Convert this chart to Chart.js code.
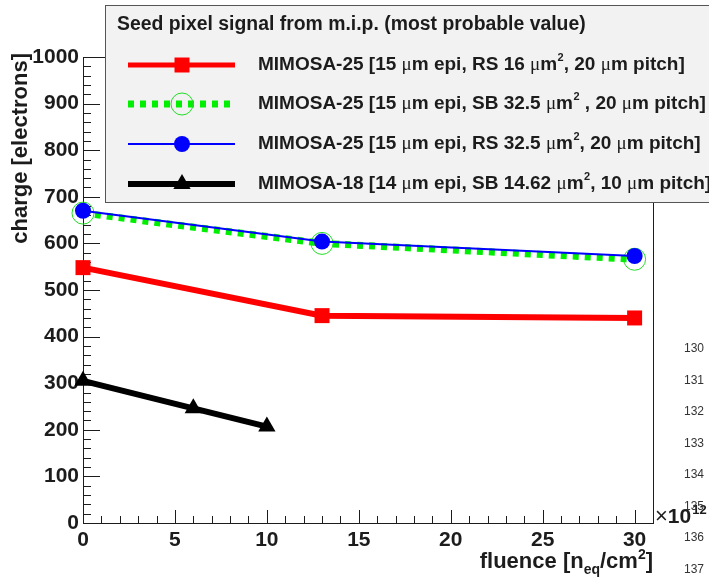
<!DOCTYPE html>
<html>
<head>
<meta charset="utf-8">
<script src="https://cdn.jsdelivr.net/npm/chart.js@4/dist/chart.umd.min.js"></script>
<style>
html,body{margin:0;padding:0;background:#fff;}
#wrap{position:relative;width:709px;height:579px;}
</style>
</head>
<body>
<div id="wrap"><canvas id="c" width="709" height="579"></canvas></div>
<script>
// fluence in units of 1e12 n_eq/cm^2, charge in electrons
const fluenceM25 = [0, 13, 30];
const fluenceM18 = [0, 6, 10];
const rs16 = [548, 445, 440];
const sb325 = [665, 600, 566];
const rs325 = [670, 604, 573];
const m18 = [305, 246, 207];

const legendTitle = 'Seed pixel signal from m.i.p. (most probable value)';
const seriesLabels = [
  'MIMOSA-25 [15 μm epi, RS 16 μm², 20 μm pitch]',
  'MIMOSA-25 [15 μm epi, SB 32.5 μm² , 20 μm pitch]',
  'MIMOSA-25 [15 μm epi, RS 32.5 μm², 20 μm pitch]',
  'MIMOSA-18 [14 μm epi, SB 14.62 μm², 10 μm pitch]'
];
const lineNumbers = ['130','131','132','133','134','135','136','137'];

const SANS = '"Liberation Sans", Arial, Helvetica, sans-serif';
const SERIF = '"Liberation Serif", "Times New Roman", serif';
const INK = '#1c1c1c';

const pts = (xs, ys) => xs.map((x, i) => ({x: x, y: ys[i]}));

// draw text with μ in serif and ² as superscript
function richText(ctx, str, x, y, size){
  let cx = x;
  const parts = str.split(/(μ|²)/).filter(p => p.length);
  parts.forEach(p => {
    if(p === 'μ'){
      ctx.font = size + 'px ' + SERIF;
      ctx.fillText(p, cx, y);
      cx += ctx.measureText(p).width;
    } else if(p === '²'){
      ctx.font = 'bold ' + Math.round(size*0.6) + 'px ' + SANS;
      ctx.fillText('2', cx + 0.5, y - size*0.38);
      cx += ctx.measureText('2').width + 0.5;
    } else {
      ctx.font = 'bold ' + size + 'px ' + SANS;
      ctx.fillText(p, cx, y);
      cx += ctx.measureText(p).width;
    }
  });
  return cx;
}

function marker(ctx, ds, x, y){
  ctx.save();
  ctx.setLineDash([]);
  ctx.fillStyle = ds.pointBackgroundColor;
  ctx.strokeStyle = ds.pointBorderColor;
  ctx.lineWidth = ds.pointBorderWidth;
  const r = ds.pointRadius;
  ctx.beginPath();
  if(ds.pointStyle === 'rect'){
    const s = Math.SQRT1_2 * r;
    ctx.rect(x - s, y - s, 2*s, 2*s);
  } else if(ds.pointStyle === 'triangle'){
    ctx.moveTo(x, y - r);
    ctx.lineTo(x + r*Math.sin(2*Math.PI/3), y - r*Math.cos(2*Math.PI/3));
    ctx.lineTo(x + r*Math.sin(4*Math.PI/3), y - r*Math.cos(4*Math.PI/3));
    ctx.closePath();
  } else {
    ctx.arc(x, y, r, 0, 2*Math.PI);
  }
  ctx.fill();
  if(ds.pointBorderWidth > 0) ctx.stroke();
  ctx.restore();
}

const rootStyle = {
  id: 'rootStyle',
  beforeDatasetsDraw(chart){
    const ctx = chart.ctx, a = chart.chartArea;
    const xs = chart.scales.x, ys = chart.scales.y;
    ctx.save();
    ctx.strokeStyle = INK;
    ctx.lineWidth = 1;
    ctx.strokeRect(a.left + 0.5, a.top + 0.5, a.right - a.left, a.bottom - a.top);
    // y ticks, pointing inward
    for(let v = ys.min; v <= ys.max + 1e-6; v += 20){
      const py = Math.round(ys.getPixelForValue(v)) + 0.5;
      const len = (v % 100 === 0) ? 17 : 8;
      ctx.beginPath(); ctx.moveTo(a.left, py); ctx.lineTo(a.left + len, py); ctx.stroke();
    }
    // x ticks
    for(let v = xs.min; v <= xs.max + 1e-6; v += 1){
      const px = Math.round(xs.getPixelForValue(v)) + 0.5;
      const len = (v % 5 === 0) ? 13 : 7;
      ctx.beginPath(); ctx.moveTo(px, a.bottom); ctx.lineTo(px, a.bottom - len); ctx.stroke();
    }
    ctx.restore();
  },
  afterDraw(chart){
    const ctx = chart.ctx, a = chart.chartArea;
    ctx.save();
    ctx.fillStyle = INK;
    ctx.textBaseline = 'alphabetic';

    // y axis title
    ctx.save();
    ctx.translate(27, 53);
    ctx.rotate(-Math.PI/2);
    ctx.textAlign = 'right';
    ctx.font = 'bold 22px ' + SANS;
    ctx.fillText('charge [electrons]', 0, 0);
    ctx.restore();

    // x axis title: fluence [n_eq/cm^2]
    const big = 'bold 22px ' + SANS, small = 'bold 14px ' + SANS;
    const runs = [['fluence [n', big, 0], ['eq', small, 6], ['/cm', big, 0], ['2', small, -9], [']', big, 0]];
    let w = 0;
    runs.forEach(r => { ctx.font = r[1]; w += ctx.measureText(r[0]).width; });
    let cx = a.right - w, base = 568;
    ctx.textAlign = 'left';
    runs.forEach(r => { ctx.font = r[1]; ctx.fillText(r[0], cx, base + r[2]); cx += ctx.measureText(r[0]).width; });

    // exponent label
    ctx.font = '22px ' + SANS;
    ctx.fillText('×', a.right + 2, 523);
    let ex = a.right + 2 + ctx.measureText('×').width;
    ctx.font = 'bold 21px ' + SANS;
    ctx.fillText('10', ex, 523);
    ex += ctx.measureText('10').width;
    ctx.font = 'bold 13px ' + SANS;
    ctx.fillText('12', ex + 1, 514);

    // stray line numbers on the right margin
    ctx.fillStyle = '#333';
    ctx.font = '12px ' + SANS;
    ctx.textAlign = 'center';
    ctx.textBaseline = 'middle';
    lineNumbers.forEach((t, i) => ctx.fillText(t, 694, 349 + i * 31.5));

    // legend box
    ctx.fillStyle = '#f2f2f2';
    ctx.fillRect(105, 5, 620, 198);
    ctx.strokeStyle = '#555';
    ctx.lineWidth = 1;
    ctx.strokeRect(105.5, 5.5, 620, 197);
    ctx.fillStyle = INK;
    ctx.textAlign = 'left';
    ctx.textBaseline = 'middle';
    ctx.font = 'bold 19.4px ' + SANS;
    ctx.fillText(legendTitle, 117, 25);
    const rows = [65, 104, 144, 184];
    chart.data.datasets.forEach((ds, i) => {
      const y = rows[i];
      ctx.save();
      ctx.strokeStyle = ds.borderColor;
      ctx.lineWidth = ds.legendLineWidth;
      ctx.setLineDash(ds.borderDash || []);
      ctx.beginPath(); ctx.moveTo(128, y); ctx.lineTo(235, y); ctx.stroke();
      ctx.restore();
      marker(ctx, ds, 182, y);
      ctx.fillStyle = INK;
      richText(ctx, ds.label, 258, y, 19);
    });
    ctx.restore();
  }
};

new Chart(document.getElementById('c'), {
  type: 'scatter',
  data: {
    datasets: [
      {label: seriesLabels[0], data: pts(fluenceM25, rs16), showLine: true, order: 3,
       borderColor: '#ff0000', borderWidth: 6, legendLineWidth: 5,
       pointStyle: 'rect', pointRadius: 10.6, pointBackgroundColor: '#ff0000', pointBorderColor: '#ff0000', pointBorderWidth: 0},
      {label: seriesLabels[1], data: pts(fluenceM25, sb325), showLine: true, order: 2,
       borderColor: '#00ee00', borderWidth: 7, borderDash: [6, 6], legendLineWidth: 7,
       pointStyle: 'circle', pointRadius: 11, pointBackgroundColor: 'rgba(0,0,0,0)', pointBorderColor: '#22dd22', pointBorderWidth: 1},
      {label: seriesLabels[2], data: pts(fluenceM25, rs325), showLine: true, order: 1,
       borderColor: '#0000ff', borderWidth: 2, legendLineWidth: 2,
       pointStyle: 'circle', pointRadius: 8, pointBackgroundColor: '#0000ff', pointBorderColor: '#0000ff', pointBorderWidth: 0},
      {label: seriesLabels[3], data: pts(fluenceM18, m18), showLine: true, order: 3,
       borderColor: '#000000', borderWidth: 6, legendLineWidth: 6,
       pointStyle: 'triangle', pointRadius: 10, pointBackgroundColor: '#000000', pointBorderColor: '#000000', pointBorderWidth: 0}
    ].map(d => Object.assign(d, {clip: false, tension: 0, pointHoverRadius: d.pointRadius}))
  },
  options: {
    responsive: false,
    animation: false,
    events: [],
    layout: {padding: {top: 57, right: 56, left: 0, bottom: 0}},
    plugins: {legend: {display: false}, tooltip: {enabled: false}},
    scales: {
      x: {
        type: 'linear', min: 0, max: 31,
        grid: {display: false, drawTicks: false},
        border: {display: false},
        ticks: {stepSize: 5, includeBounds: false, autoSkip: false, maxRotation: 0, padding: 5,
                color: INK, font: {family: SANS, size: 21, weight: 'bold'}, callback: v => String(v)},
        afterFit: s => { s.height = 56; }
      },
      y: {
        type: 'linear', min: 0, max: 1000,
        grid: {display: false, drawTicks: false},
        border: {display: false},
        ticks: {stepSize: 100, autoSkip: false, padding: 4,
                color: INK, font: {family: SANS, size: 21, weight: 'bold'}, callback: v => String(v)},
        afterFit: s => { s.width = 83; }
      }
    }
  },
  plugins: [rootStyle]
});
</script>
</body>
</html>
